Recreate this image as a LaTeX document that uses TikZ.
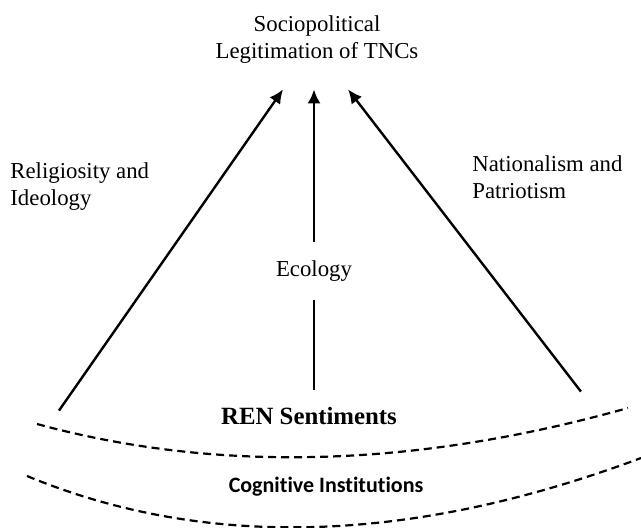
\documentclass[tikz,border=0pt]{standalone}
\usepackage{fontspec}
\setmainfont{Liberation Serif}
\newfontfamily\calibri[Ligatures=NoCommon]{Carlito}
\usetikzlibrary{arrows.meta}
\newcommand{\labsize}{\fontsize{11.4}{13.5}\selectfont}

\begin{document}
\begin{tikzpicture}[x=.5pt,y=-.5pt,
    lab/.style={font=\labsize, align=left, anchor=west, inner sep=0pt},
    arr/.style={line width=1.2pt, -{Latex[length=7pt,width=6.5pt]}},
    layer/.style={line width=1.1pt, dash pattern=on 4pt off 2.5pt}]
      \useasboundingbox (0,0) rectangle (641,528);

      \node (top) at (317,40) [font=\labsize, align=center, inner sep=0pt] {Sociopolitical\\Legitimation of TNCs};
      \node (lefttip) at (284,88) [inner sep=0pt] {};
      \node (midtip) at (314,88) [inner sep=0pt] {};
      \node (righttip) at (347,88) [inner sep=0pt] {};
      \node (leftbase) at (58,412) [inner sep=0pt] {};
      \node (midbase) at (314,391) [inner sep=0pt] {};
      \node (rightbase) at (582,393) [inner sep=0pt] {};
      \node (eco) at (314,271) [font=\labsize, inner xsep=2pt, inner ysep=9.5pt, outer sep=0pt] {Ecology};

      \draw[arr] (leftbase) -- (lefttip);
      \draw[arr] (rightbase) -- (righttip);
      \draw[line width=1.2pt] (midbase) -- (eco.south);
      \draw[arr] (eco.north) -- (midtip);

      \node (relig) at (10,187) [lab] {Religiosity and\\Ideology};
      \node (nation) at (472,177) [lab] {Nationalism and\\Patriotism};

      \node (ren) at (309,416) [font=\fontsize{12.4}{14}\selectfont\bfseries, inner sep=0pt] {REN Sentiments};
      \node (cog) at (326,487) [font=\calibri\fontsize{11}{13}\selectfont\bfseries, inner sep=0pt] {Cognitive Institutions};

      % layer borders
      \draw[layer] (37,424) .. controls (217,473) and (414,468) .. (628,408);
      \draw[layer] (27,476) .. controls (206,550) and (411,544) .. (641,458);
\end{tikzpicture}
\end{document}
